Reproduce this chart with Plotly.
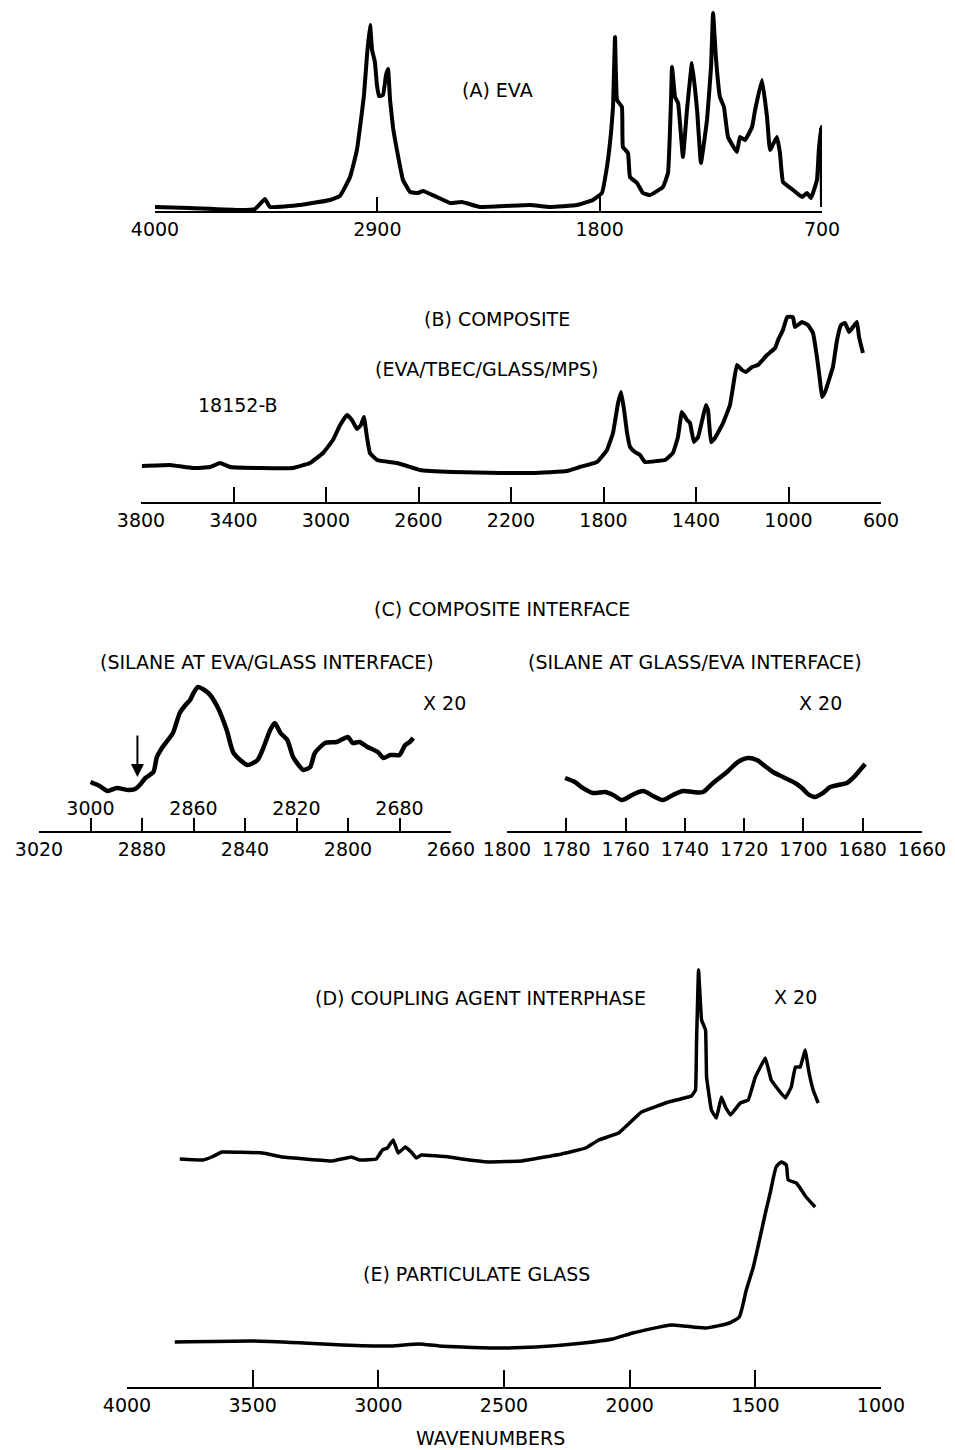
import plotly.graph_objects as go

W, H = 955, 1450
FONT = "DejaVu Sans"

# ---------------- (A) EVA ----------------
eva_wn = [4000, 3827, 3579, 3505, 3456, 3431, 3283, 3134, 3085, 3035, 3001, 2981, 2966, 2951,
          2936, 2926, 2912, 2902, 2892, 2872, 2857, 2847, 2837, 2822, 2803, 2773, 2738, 2699,
          2674, 2605, 2540, 2481, 2392, 2145, 2046, 1912, 1833, 1789, 1764, 1744, 1734, 1724,
          1714, 1690, 1685, 1660, 1650, 1615, 1586, 1551, 1487, 1462, 1447, 1442, 1427, 1412,
          1388, 1368, 1343, 1318, 1299, 1269, 1249, 1239, 1224, 1205, 1185, 1165, 1121, 1106,
          1081, 1046, 1031, 997, 972, 957, 923, 908, 893, 843, 799, 774, 754, 725, 716, 705,
          701, 700]
eva_abs = [0.02, 0.015, 0.005, 0.01, 0.06, 0.02, 0.03, 0.055, 0.075, 0.17, 0.305, 0.455, 0.58,
           0.78, 0.93, 0.805, 0.745, 0.63, 0.575, 0.58, 0.68, 0.71, 0.555, 0.415, 0.305, 0.155,
           0.095, 0.09, 0.10, 0.07, 0.04, 0.045, 0.02, 0.03, 0.02, 0.03, 0.055, 0.09, 0.22, 0.39,
           0.52, 0.87, 0.555, 0.52, 0.32, 0.29, 0.17, 0.14, 0.09, 0.08, 0.12, 0.19, 0.555, 0.72,
           0.57, 0.54, 0.27, 0.505, 0.74, 0.505, 0.24, 0.455, 0.72, 0.99, 0.755, 0.57, 0.52,
           0.37, 0.295, 0.37, 0.355, 0.42, 0.505, 0.655, 0.47, 0.305, 0.37, 0.29, 0.145, 0.105,
           0.07, 0.09, 0.065, 0.155, 0.30, 0.42, 0.12, 0.02]
eva_ticks = [4000, 2900, 1800, 700]

# ---------------- (B) COMPOSITE ----------------
comp_wn = [3796, 3675, 3575, 3502, 3458, 3415, 3285, 3143, 3069, 3013, 2970, 2939, 2909, 2888,
           2866, 2849, 2836, 2823, 2810, 2779, 2693, 2650, 2594, 2451, 2248, 2161, 2105, 1958,
           1902, 1828, 1785, 1759, 1737, 1724, 1711, 1698, 1685, 1664, 1642, 1621, 1569, 1534,
           1500, 1478, 1461, 1439, 1426, 1409, 1391, 1370, 1357, 1348, 1335, 1318, 1283, 1253,
           1240, 1223, 1201, 1184, 1158, 1132, 1093, 1058, 1045, 1024, 1006, 981, 972, 942, 916,
           894, 877, 864, 855, 842, 821, 808, 790, 773, 756, 738, 721, 704, 695, 678]
comp_abs = [0.18, 0.185, 0.17, 0.175, 0.195, 0.175, 0.17, 0.17, 0.195, 0.245, 0.31, 0.385, 0.435,
            0.41, 0.365, 0.385, 0.425, 0.325, 0.245, 0.21, 0.195, 0.18, 0.16, 0.15, 0.145, 0.145,
            0.145, 0.155, 0.175, 0.20, 0.26, 0.345, 0.495, 0.55, 0.46, 0.345, 0.275, 0.25, 0.235,
            0.20, 0.205, 0.21, 0.245, 0.325, 0.45, 0.41, 0.395, 0.30, 0.325, 0.425, 0.485, 0.46,
            0.30, 0.32, 0.395, 0.485, 0.575, 0.685, 0.66, 0.65, 0.675, 0.685, 0.735, 0.77, 0.81,
            0.86, 0.925, 0.925, 0.875, 0.90, 0.885, 0.845, 0.725, 0.61, 0.525, 0.55, 0.625, 0.675,
            0.81, 0.885, 0.895, 0.85, 0.875, 0.90, 0.825, 0.745]
comp_ticks = [3800, 3400, 3000, 2600, 2200, 1800, 1400, 1000, 600]

# ---------------- (C) COMPOSITE INTERFACE ----------------
# left: silane at EVA/glass interface (x 20)
ch_wn = [2975, 2967, 2960, 2952, 2942, 2936, 2932, 2927, 2920, 2917, 2912, 2903, 2897, 2892,
         2888, 2885, 2881, 2872, 2864, 2856, 2850, 2838, 2829, 2824, 2818, 2814, 2809, 2803,
         2798, 2789, 2783, 2779, 2770, 2760, 2750, 2746, 2740, 2733, 2724, 2719, 2713, 2705,
         2700, 2696, 2693]
ch_abs = [0.49, 0.45, 0.40, 0.43, 0.41, 0.42, 0.46, 0.53, 0.59, 0.74, 0.84, 0.98, 1.18, 1.26,
          1.31, 1.38, 1.44, 1.38, 1.24, 1.01, 0.78, 0.66, 0.71, 0.83, 1.01, 1.08, 0.98, 0.91,
          0.74, 0.61, 0.64, 0.78, 0.88, 0.89, 0.94, 0.88, 0.89, 0.84, 0.79, 0.73, 0.76, 0.76,
          0.86, 0.89, 0.93]
ch_ticks = [3020, 2975, 2930, 2885, 2840, 2795, 2750, 2705, 2660]
ch_low_text = ["3020", "", "2880", "", "2840", "", "2800", "", "2660"]
ch_up_ticks = [2975, 2885, 2795, 2705]
ch_up_text = ["3000", "2860", "2820", "2680"]
arrow_wn, arrow_tip, arrow_tail = 2934, 0.54, 0.97

# right: silane at glass/EVA interface (x 20)
co_wn = [1780.4, 1777.1, 1774.4, 1771.0, 1766.9, 1764.2, 1761.2, 1757.8, 1754.1, 1750.7, 1747.4,
         1744.0, 1740.6, 1737.3, 1733.9, 1730.5, 1725.8, 1722.1, 1718.7, 1715.7, 1713.0, 1710.3,
         1706.9, 1702.8, 1700.5, 1698.5, 1696.1, 1693.4, 1691.0, 1688.3, 1685.3, 1683.3, 1680.9,
         1679.2]
co_abs = [0.53, 0.49, 0.43, 0.38, 0.39, 0.36, 0.31, 0.36, 0.40, 0.35, 0.31, 0.36, 0.40, 0.39,
          0.39, 0.48, 0.59, 0.69, 0.73, 0.71, 0.65, 0.59, 0.54, 0.48, 0.43, 0.37, 0.34, 0.38,
          0.44, 0.46, 0.48, 0.53, 0.61, 0.67]
co_ticks = [1800, 1780, 1760, 1740, 1720, 1700, 1680, 1660]

# ---------------- (D) / (E) ----------------
cai_wn = [3790, 3698, 3663, 3623, 3460, 3381, 3183, 3107, 3075, 3008, 2984, 2964, 2941, 2921,
          2893, 2869, 2849, 2829, 2718, 2667, 2560, 2429, 2270, 2175, 2123, 2044, 1953, 1845,
          1754, 1738, 1734, 1726, 1714, 1698, 1694, 1675, 1655, 1635, 1619, 1599, 1560, 1528,
          1500, 1460, 1437, 1381, 1357, 1341, 1321, 1302, 1286, 1270, 1250]
cai_abs = [2.28, 2.27, 2.30, 2.35, 2.34, 2.30, 2.26, 2.30, 2.27, 2.28, 2.37, 2.39, 2.47, 2.34,
           2.40, 2.35, 2.29, 2.32, 2.30, 2.28, 2.25, 2.26, 2.33, 2.39, 2.47, 2.54, 2.75, 2.85,
           2.91, 2.97, 3.44, 4.17, 3.67, 3.57, 3.10, 2.77, 2.69, 2.90, 2.80, 2.72, 2.84, 2.87,
           3.10, 3.29, 3.07, 2.89, 3.00, 3.20, 3.20, 3.37, 3.14, 2.97, 2.84]
glass_wn = [3810, 3492, 3298, 3143, 2952, 2837, 2758, 2528, 2373, 2183, 2068, 1988, 1833, 1699,
            1603, 1564, 1536, 1508, 1488, 1460, 1441, 1417, 1397, 1377, 1369, 1337, 1298, 1262]
glass_abs = [0.45, 0.46, 0.44, 0.42, 0.41, 0.43, 0.41, 0.39, 0.40, 0.44, 0.48, 0.54, 0.62, 0.59,
             0.64, 0.70, 0.97, 1.20, 1.42, 1.74, 1.94, 2.20, 2.25, 2.22, 2.07, 2.04, 1.90, 1.80]
de_ticks = [4000, 3500, 3000, 2500, 2000, 1500, 1000]


def px_x(p):
    return p / W


def px_y(p):
    return 1 - p / H


fig = go.Figure()


def spectrum(x, y, xa, ya, width, smoothing=0.0):
    shape = "spline" if smoothing else "linear"
    ln = dict(color="black", width=width, shape=shape)
    if smoothing:
        ln["smoothing"] = smoothing
    fig.add_trace(go.Scatter(x=x, y=y, xaxis=xa, yaxis=ya, mode="lines", line=ln,
                             hoverinfo="skip"))


spectrum(eva_wn, eva_abs, "x", "y", 4, 0.3)
spectrum(comp_wn, comp_abs, "x2", "y2", 4, 0.3)
spectrum(ch_wn, ch_abs, "x3", "y3", 4.5, 0.6)
spectrum(co_wn, co_abs, "x5", "y5", 4.5, 0.8)
spectrum(cai_wn, cai_abs, "x6", "y6", 3.5, 0.2)
spectrum(glass_wn, glass_abs, "x6", "y6", 3.5, 0.5)
# empty trace so the upper label row of the (C) left scale gets its own subplot
fig.add_trace(go.Scatter(x=[], y=[], xaxis="x4", yaxis="y4", mode="lines", hoverinfo="skip"))

tickfont = dict(family=FONT, size=19, color="black")


def xaxis(left, right, rng, tickvals, anchor, ticktext=None, ticklen=14, line=True):
    d = dict(domain=[px_x(left), px_x(right)], range=rng, tickmode="array", tickvals=tickvals,
             anchor=anchor, showline=line, linecolor="black", linewidth=2,
             ticks="inside" if line else "", ticklen=ticklen, tickwidth=2, tickcolor="black",
             showgrid=False, zeroline=False, tickfont=tickfont, fixedrange=True,
             automargin=False, showticklabels=True)
    if ticktext is not None:
        d["ticktext"] = ticktext
    return d


def yaxis(bottom, top, rng, anchor):
    return dict(domain=[px_y(bottom), px_y(top)], range=rng, visible=False, showgrid=False,
                zeroline=False, fixedrange=True, anchor=anchor, automargin=False)


fig.update_layout(
    width=W, height=H, autosize=False, margin=dict(l=0, r=0, t=0, b=0, pad=0),
    paper_bgcolor="white", plot_bgcolor="rgba(0,0,0,0)", showlegend=False,
    xaxis=xaxis(155, 822, [4000, 700], eva_ticks, "y"),
    yaxis=yaxis(211, 3, [0, 1.04], "x"),
    xaxis2=xaxis(141, 881, [3800, 600], comp_ticks, "y2", ticklen=15),
    yaxis2=yaxis(502, 295, [0, 1.035], "x2"),
    xaxis3=xaxis(39, 451, [3020, 2660], ch_ticks, "y3", ch_low_text, ticklen=13),
    yaxis3=yaxis(831, 680, [0, 1.51], "x3"),
    # upper row of labels on the (C) left scale, printed just above its axis line
    xaxis4=xaxis(39, 451, [3020, 2660], ch_up_ticks, "y4", ch_up_text, line=False),
    yaxis4=yaxis(795, 765, [0, 1], "x4"),
    xaxis5=xaxis(507, 922, [1800, 1660], co_ticks, "y5", ticklen=13),
    yaxis5=yaxis(831, 680, [0, 1.51], "x5"),
    xaxis6=xaxis(127, 881, [4000, 1000], de_ticks, "y6", ticklen=17),
    yaxis6=yaxis(1387, 950, [0, 4.37], "x6"),
)


def label(text, x, y, size=19):
    fig.add_annotation(text=text, x=px_x(x), y=px_y(y), xref="paper", yref="paper",
                       xanchor="center", yanchor="middle", showarrow=False,
                       font=dict(family=FONT, size=size, color="black"))


label("(A) EVA", 497, 90)
label("(B) COMPOSITE", 497, 319)
label("(EVA/TBEC/GLASS/MPS)", 487, 369)
label("18152-B", 238, 405)
label("(C) COMPOSITE INTERFACE", 502, 609)
label("(SILANE AT EVA/GLASS INTERFACE)", 267, 662)
label("(SILANE AT GLASS/EVA INTERFACE)", 695, 662)
label("X 20", 444, 703)
label("X 20", 820, 703)
label("(D) COUPLING AGENT INTERPHASE", 480, 998)
label("X 20", 795, 997)
label("(E) PARTICULATE GLASS", 476, 1274)
label("WAVENUMBERS", 490, 1438)

# arrow marking the onset of the silane band
fig.add_annotation(x=arrow_wn, y=arrow_tip, ax=arrow_wn, ay=arrow_tail, xref="x3", yref="y3",
                   axref="x3", ayref="y3", text="", showarrow=True, arrowhead=2, arrowsize=1.3,
                   arrowwidth=2, arrowcolor="black", standoff=0)

fig.write_html("out.html")
